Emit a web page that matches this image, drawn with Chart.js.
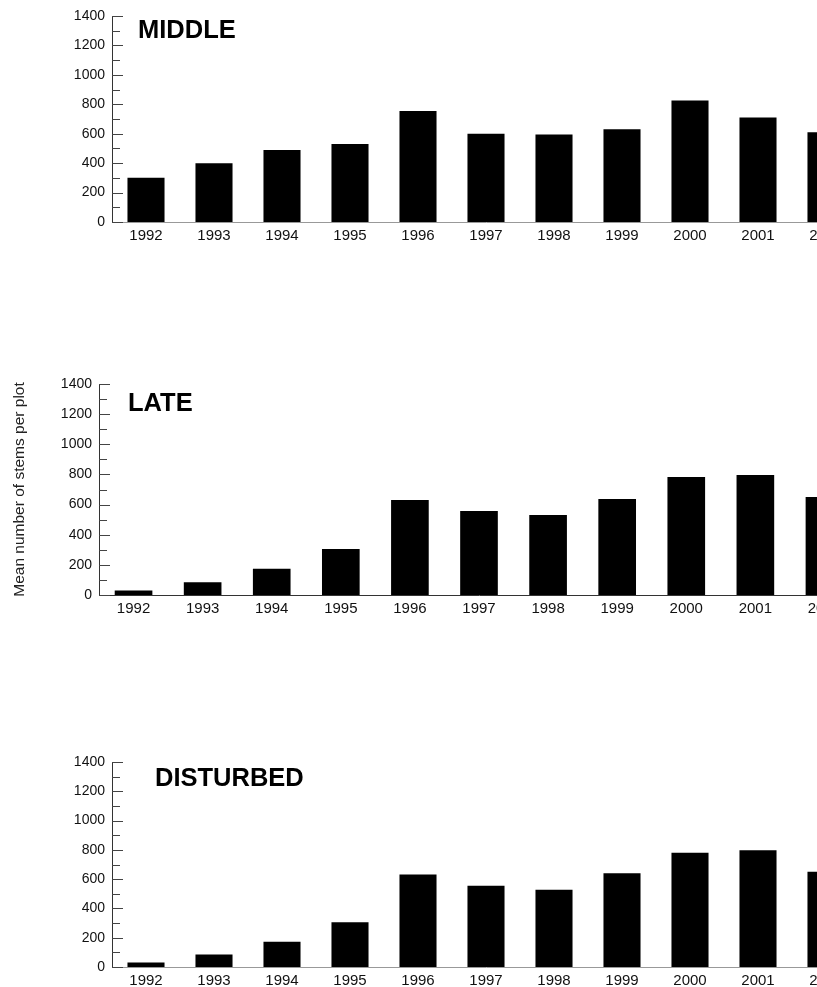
<!DOCTYPE html>
<html>
<head>
<meta charset="utf-8">
<title>Mean number of stems per plot, 1992-2002</title>
<script src="https://cdn.jsdelivr.net/npm/chart.js@4/dist/chart.umd.min.js"></script>
<style>
  html, body { margin: 0; padding: 0; background: #fff; overflow: hidden; }
  body { width: 817px; height: 987px; position: relative; }
  canvas { position: absolute; left: 0; }
</style>
</head>
<body>
<canvas id="middleChart"></canvas>
<canvas id="lateChart"></canvas>
<canvas id="disturbedChart"></canvas>
<script>
const years = ['1992', '1993', '1994', '1995', '1996', '1997', '1998', '1999', '2000', '2001', '2002'];
const middleStems = [300, 400, 490, 530, 755, 600, 595, 630, 825, 710, 610];
const lateStems = [30, 85, 175, 305, 630, 558, 530, 637, 783, 797, 651];
const disturbedStems = [30, 85, 172, 305, 632, 555, 528, 640, 781, 797, 651];
const yTicks = [0, 200, 400, 600, 800, 1000, 1200, 1400];

const FONT = "'Liberation Sans', Arial, Helvetica, sans-serif";

// short ticks pointing into the plot, every 100 (long on labelled values)
const inwardTicks = {
    id: 'inwardTicks',
    afterDatasetsDraw(chart) {
        const y = chart.scales.y;
        const ctx = chart.ctx;
        const left = chart.chartArea.left;
        ctx.save();
        ctx.strokeStyle = '#444';
        ctx.lineWidth = 1;
        for (let v = y.min; v <= y.max; v += 100) {
            const py = Math.round(y.getPixelForValue(v)) + 0.5;
            const len = yTicks.includes(v) ? 11 : 8;
            ctx.beginPath();
            ctx.moveTo(left, py);
            ctx.lineTo(left + len, py);
            ctx.stroke();
        }
        ctx.restore();
    }
};

// bold panel name inside the plot area
const panelName = {
    id: 'panelName',
    afterDraw(chart, args, opts) {
        if (!opts.text) return;
        const ctx = chart.ctx;
        ctx.save();
        ctx.font = 'bold 25.5px ' + FONT;
        ctx.fillStyle = '#000';
        ctx.textBaseline = 'alphabetic';
        ctx.fillText(opts.text, chart.chartArea.left + opts.dx, chart.chartArea.top + opts.dy);
        ctx.restore();
    }
};

function makePanel(id, opts) {
    const canvas = document.getElementById(id);
    const padTop = 16;
    canvas.width = opts.width;
    canvas.height = opts.height;
    canvas.style.top = opts.top + 'px';

    return new Chart(canvas.getContext('2d'), {
        type: 'bar',
        data: {
            labels: years,
            datasets: [{
                data: opts.values,
                backgroundColor: '#000',
                borderWidth: 0,
                barPercentage: 0.545,
                categoryPercentage: 1
            }]
        },
        options: {
            responsive: false,
            animation: false,
            devicePixelRatio: 1,
            layout: { padding: { top: padTop, left: 0, right: 0, bottom: 0 } },
            plugins: {
                legend: { display: false },
                tooltip: { enabled: false },
                panelName: { text: opts.name, dx: opts.nameDx, dy: opts.nameDy }
            },
            scales: {
                x: {
                    grid: { display: false, drawTicks: false },
                    border: { display: true, color: opts.xAxisColor, width: 1 },
                    ticks: {
                        color: '#111',
                        font: { family: FONT, size: 15 },
                        padding: 5,
                        maxRotation: 0,
                        autoSkip: false
                    },
                    afterFit(scale) {
                        scale.height = opts.height - padTop - opts.plotHeight;
                    }
                },
                y: {
                    min: 0,
                    max: 1400,
                    grid: { display: false, drawTicks: false },
                    border: { display: true, color: '#333', width: 1 },
                    afterBuildTicks(scale) {
                        scale.ticks = yTicks.map(v => ({ value: v }));
                    },
                    ticks: {
                        color: '#111',
                        font: { family: FONT, size: 14 },
                        padding: 7,
                        callback: v => String(v)
                    },
                    title: {
                        display: !!opts.yTitle,
                        text: opts.yTitle || '',
                        color: '#222',
                        font: { family: FONT, size: 15.5 },
                        padding: { top: 10, bottom: 0 }
                    },
                    afterFit(scale) {
                        scale.width = opts.left;
                    }
                }
            }
        },
        plugins: [inwardTicks, panelName]
    });
}

makePanel('middleChart', {
    values: middleStems, name: 'MIDDLE', nameDx: 26, nameDy: 21.5,
    top: 0, left: 112, width: 860, height: 248, plotHeight: 206, xAxisColor: '#999'
});

makePanel('lateChart', {
    values: lateStems, name: 'LATE', nameDx: 29, nameDy: 26.5,
    top: 368, left: 99, width: 859, height: 253, plotHeight: 211, xAxisColor: '#333',
    yTitle: 'Mean number of stems per plot'
});

makePanel('disturbedChart', {
    values: disturbedStems, name: 'DISTURBED', nameDx: 43, nameDy: 23.5,
    top: 746, left: 112, width: 860, height: 241, plotHeight: 205, xAxisColor: '#999'
});
</script>
</body>
</html>
